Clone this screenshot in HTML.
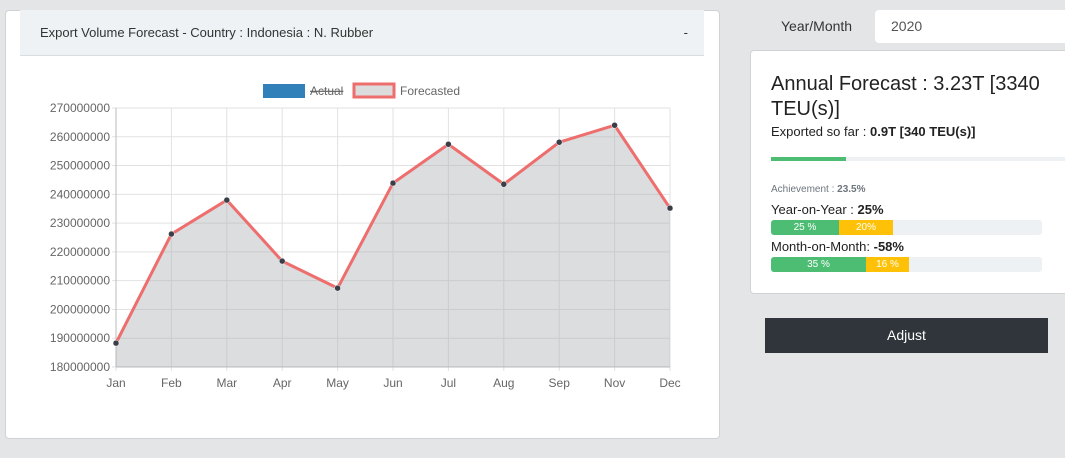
<!DOCTYPE html>
<html><head><meta charset="utf-8">
<style>
body{margin:0;width:1065px;height:458px;background:#e4e5e6;font-family:"Liberation Sans",sans-serif;position:relative;overflow:hidden}
.card{position:absolute;background:#fff;border:1px solid #d0d3d6;border-radius:4px}
.hdr{position:absolute;left:20px;top:10px;width:684px;height:45px;background:#eef2f5;border-bottom:1px solid #d8dde2;font-size:13px;color:#333;line-height:45px}
.bar{position:absolute;height:15px;border-radius:3px;background:#eef1f4;overflow:hidden;font-size:10px;color:#fff;line-height:15px}
.bar span{float:left;height:15px;text-align:center}
</style></head><body>
<div class="card" style="left:5px;top:10px;width:713px;height:427px"></div>
<div class="hdr"><span style="margin-left:20px">Export Volume Forecast - Country : Indonesia : N. Rubber</span><span style="position:absolute;right:16px">-</span></div>
<svg id="chart" style="position:absolute;left:0;top:0" width="720" height="458"></svg>

<div style="position:absolute;left:781px;top:18px;font-size:14px;color:#333">Year/Month</div>
<div style="position:absolute;left:875px;top:10px;width:200px;height:33px;background:#fff;border-radius:4px;font-size:14px;color:#555;line-height:33px;text-indent:16px">2020</div>
<div class="card" style="left:750px;top:50px;width:330px;height:242px"></div>
<div style="position:absolute;left:771px;top:72px;width:290px;font-size:20px;line-height:25px;color:#222">Annual Forecast : 3.23T [3340 TEU(s)]</div>
<div style="position:absolute;left:771px;top:124px;font-size:13px;color:#222">Exported so far : <b>0.9T [340 TEU(s)]</b></div>
<div style="position:absolute;left:771px;top:157px;width:300px;height:4px;background:#eef1f4"><div style="width:75px;height:4px;background:#4dbd74"></div></div>
<div style="position:absolute;left:771px;top:184px;font-size:10px;color:#6c757d">Achievement : <b>23.5%</b></div>
<div style="position:absolute;left:771px;top:202px;font-size:13px;color:#222">Year-on-Year : <b>25%</b></div>
<div class="bar" style="left:771px;top:220px;width:271px"><span style="width:68px;background:#4dbd74">25 %</span><span style="width:54px;background:#ffc107">20%</span></div>
<div style="position:absolute;left:771px;top:239px;font-size:13px;color:#222">Month-on-Month: <b>-58%</b></div>
<div class="bar" style="left:771px;top:257px;width:271px"><span style="width:95px;background:#4dbd74">35 %</span><span style="width:43px;background:#ffc107">16 %</span></div>
<div style="position:absolute;left:765px;top:318px;width:283px;height:35px;background:#2f353a;color:#fff;font-size:14px;text-align:center;line-height:35px">Adjust</div>

<script>
const months=["Jan","Feb","Mar","Apr","May","Jun","Jul","Aug","Sep","Nov","Dec"];
const forecast=[188.3,226.2,238,216.8,207.4,243.9,257.4,243.5,258.1,264,235.2];
const yTicks=[180,190,200,210,220,230,240,250,260,270];
const NS="http://www.w3.org/2000/svg";
const svg=document.getElementById('chart');
const x0=116,x1=670,yTop=108,yBot=367,yMin=180,yMax=270;
const X=i=>x0+i*(x1-x0)/(months.length-1);
const Y=v=>yBot-(v-yMin)/(yMax-yMin)*(yBot-yTop);
function mk(t,a){const e=document.createElementNS(NS,t);for(const k in a)e.setAttribute(k,a[k]);svg.appendChild(e);return e;}
yTicks.forEach(v=>{
 const l=mk('line',{x1:x0-4,x2:x1,y1:Y(v),y2:Y(v),stroke:'#e2e2e2'});
 
 
 const t=mk('text',{x:x0-6,y:Y(v)+4,'text-anchor':'end','font-size':12,fill:'#666'});
 t.textContent=v+'000000';
 
 
});
months.forEach((m,i)=>{
 const l=mk('line',{x1:X(i),x2:X(i),y1:yTop,y2:yBot+4,stroke:'#e2e2e2'});
 
 
 const t=mk('text',{x:X(i),y:yBot+20,'text-anchor':'middle','font-size':12,fill:'#666'});
 t.textContent=m;
 
 
});
mk('line',{x1:x0,x2:x0,y1:yTop,y2:yBot,stroke:'#bbb'});
mk('line',{x1:x0,x2:x1,y1:yBot,y2:yBot,stroke:'#bbb'});
let pts=forecast.map((v,i)=>X(i)+','+Y(v)).join(' ');
const area=mk('polygon',{points:pts+' '+X(months.length-1)+','+yBot+' '+x0+','+yBot,fill:'rgba(170,173,178,0.42)'});


const line=mk('polyline',{points:pts,fill:'none',stroke:'#ee6e6e','stroke-width':3});


forecast.forEach((v,i)=>{
 const c=mk('circle',{cx:X(i),cy:Y(v),r:3,fill:'#3a3f47',stroke:'#fff','stroke-width':0.5});
 
 
});
// legend
const lg1=mk('rect',{x:263,y:84,width:42,height:14,fill:'#3280b9'});


const t1=mk('text',{x:310,y:95,'font-size':12,fill:'#666','text-decoration':'line-through'});t1.textContent='Actual';


const lg2=mk('rect',{x:354,y:84,width:40,height:13,fill:'#dcdcdc',stroke:'#ee6e6e','stroke-width':3});


const t2=mk('text',{x:400,y:95,'font-size':12,fill:'#666'});t2.textContent='Forecasted';


</script>
</body></html>
